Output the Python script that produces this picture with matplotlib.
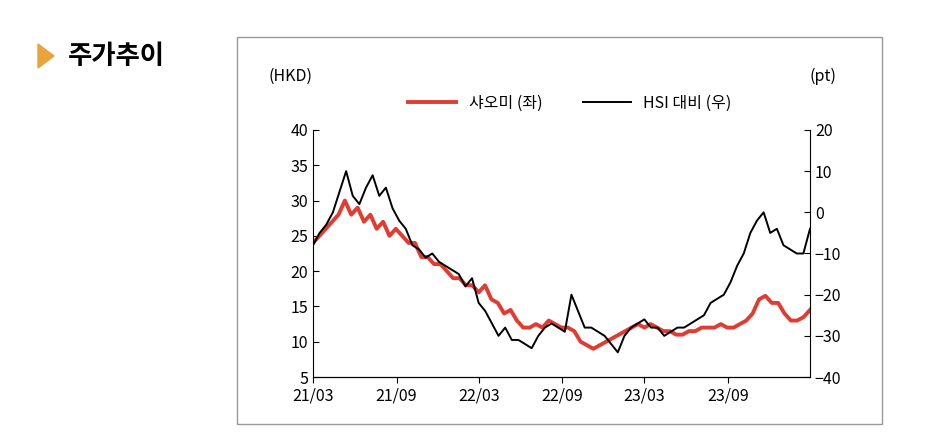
import matplotlib
matplotlib.use("Agg")
import matplotlib.pyplot as plt
import matplotlib.dates as mdates
import numpy as np
import pandas as pd
from matplotlib.patches import Rectangle, Polygon

plt.rcParams['font.family'] = ['Noto Sans CJK KR', 'DejaVu Sans']

xiaomi = [24,25,26,27,28,30,28,29,27,28,26,27,25,26,25,24,24,22,22,21,21,20,19,19,18,18,17,18,16,15.5,14,14.5,13,12,12,12.5,12,13,12.5,12,12,11.5,10,9.5,9,9.5,10,10.5,11,11.5,12,12.5,12,12.5,12,11.5,11.5,11,11,11.5,11.5,12,12,12,12.5,12,12,12.5,13,14,16,16.5,15.5,15.5,14,13,13,13.5,14.5]
hsi_rel = [-8,-5,-3,0,5,10,4,2,6,9,4,6,1,-2,-4,-8,-9,-11,-10,-12,-13,-14,-15,-18,-16,-22,-24,-27,-30,-28,-31,-31,-32,-33,-30,-28,-27,-28,-29,-20,-24,-28,-28,-29,-30,-32,-34,-30,-28,-27,-26,-28,-28,-30,-29,-28,-28,-27,-26,-25,-22,-21,-20,-17,-13,-10,-5,-2,0,-5,-4,-8,-9,-10,-10,-4]
tick_labels = ['21/03','21/09','22/03','22/09','23/03','23/09']
tick_dates = pd.to_datetime(['2021-03-01','2021-09-01','2022-03-01','2022-09-01','2023-03-01','2023-09-01'])

start, end = pd.Timestamp('2021-03-01'), pd.Timestamp('2024-02-29')
d1 = pd.to_datetime(np.linspace(start.value, end.value, len(xiaomi)))
d2 = pd.to_datetime(np.linspace(start.value, end.value, len(hsi_rel)))

fig = plt.figure(figsize=(9.27, 4.48), dpi=100)
fig.patches.append(Rectangle((237/927, 1-424/448), (882-237)/927, (424-37)/448, transform=fig.transFigure, fill=False, ec='#999999', lw=1))
fig.patches.append(Polygon([[38/927, 1-44/448],[38/927, 1-68/448],[54/927, 1-56/448]], closed=True, transform=fig.transFigure, color='#E8A33A'))
fig.text(68/927, 1-56/448, '주가추이', fontsize=19, fontweight='bold', va='center')

ax = fig.add_axes([313/927, 1-377/448, (810-313)/927, (377-130)/448])
ax2 = ax.twinx()
l1, = ax.plot(d1, xiaomi, color='#E03C31', lw=2.8, label='샤오미 (좌)')
l2, = ax2.plot(d2, hsi_rel, color='black', lw=1.4, label='HSI 대비 (우)')
ax.set_ylim(5, 40); ax.set_yticks(range(5, 41, 5))
ax2.set_ylim(-40, 20); ax2.set_yticks(range(-40, 21, 10))
ax.set_xlim(start, end)
ax.set_xticks(tick_dates); ax.set_xticklabels(tick_labels)
for a in (ax, ax2):
    for s in ['top']:
        a.spines[s].set_visible(False)
    a.tick_params(labelsize=11.5, direction='in', length=4)
ax.spines['right'].set_visible(False)
ax2.spines['left'].set_visible(False)
ax.tick_params(axis='x', direction='out', length=4)
ax.text(-0.09, 1.2, '(HKD)', transform=ax.transAxes, fontsize=11.5)
ax2.text(1.0, 1.2, '(pt)', transform=ax2.transAxes, fontsize=11.5)
fig.legend(handles=[l1, l2], loc='center', bbox_to_anchor=(570/927, 1-103/448), ncol=2, frameon=False, fontsize=11.5, handlelength=3, columnspacing=2.5)
fig.savefig('out.png', dpi=100)
